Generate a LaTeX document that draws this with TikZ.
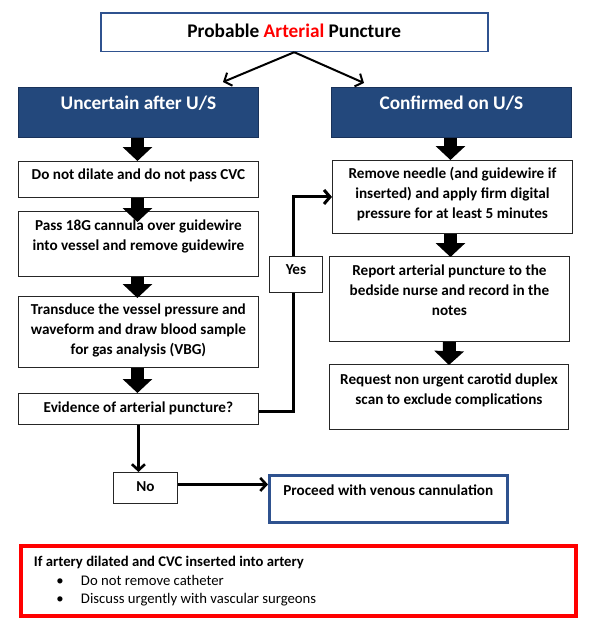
\documentclass[tikz,border=0pt]{standalone}
\usepackage{fontspec}
\setmainfont{Carlito}
\usetikzlibrary{arrows.meta,backgrounds,calc}
\definecolor{hdrfill}{RGB}{35,72,124}
\definecolor{hdrline}{RGB}{25,50,90}
\definecolor{titleline}{RGB}{47,82,143}
\newcommand{\fbx}[4]{\parbox[c][#2pt][t]{#1pt}{\centering\rule{0pt}{#3pt}#4}}
\begin{document}
\begin{tikzpicture}[x=1pt,y=-1pt,
  box/.style={draw=black!85, line width=0.9pt, fill=white, inner sep=0pt, anchor=north west,
    font=\fontsize{15.2}{20}\selectfont\bfseries},
  hdr/.style={box, draw=hdrline, fill=hdrfill, text=white, font=\fontsize{19.3}{22}\selectfont\bfseries},
  ttl/.style={box, draw=titleline, line width=1.5pt, font=\fontsize{19.3}{22}\selectfont\bfseries},
  pbox/.style={box, draw=titleline, line width=2.5pt},
  redbox/.style={box, draw=red, line width=4pt, font=\fontsize{14.7}{18.5}\selectfont},
  blockarr/.style={line width=13pt, -{Triangle[width=29pt,length=14pt]}},
  thinarr/.style={line width=2pt, -{Straight Barb[length=6pt,width=14pt]}},
  midarr/.style={line width=2.6pt, -{Straight Barb[length=6pt,width=13pt]}}
]
\useasboundingbox (0,0) rectangle (599,632);

\node[ttl] (title) at (100,12.3) {\fbx{387}{38.4}{24}{Probable \textcolor{red}{Arterial} Puncture}};
\node[hdr] (unc) at (18,87) {\fbx{240}{50}{22.5}{Uncertain after U/S}};
\node[hdr] (con) at (331,87) {\fbx{240}{50}{22.5}{Confirmed on U/S}};

\node[box] (dnd) at (18,161) {\fbx{240}{36}{17.9}{Do not dilate and do not pass CVC}};
\node[box] (pass) at (18,211) {\fbx{240}{65}{18.9}{Pass 18G cannula over guidewire\\into vessel and remove guidewire}};
\node[box] (trans) at (18,296) {\fbx{240}{71}{17.9}{Transduce the vessel pressure and\\waveform and draw blood sample\\for gas analysis (VBG)}};
\node[box] (ev) at (18,393) {\fbx{240}{31}{18.9}{Evidence of arterial puncture?}};

\node[box] (rem) at (332,160) {\fbx{240}{73}{17.9}{Remove needle (and guidewire if\\inserted) and apply firm digital\\pressure for at least 5 minutes}};
\node[box] (rep) at (329,256) {\fbx{240}{85}{18.9}{Report arterial puncture to the\\bedside nurse and record in the\\notes}};
\node[box] (req) at (329,364) {\fbx{239}{65}{19.9}{Request non urgent carotid duplex\\scan to exclude complications}};

\node[box] (yes) at (269,256) {\fbx{53}{36}{17.9}{Yes}};
\node[box] (no) at (113,472) {\fbx{64}{31}{18.9}{No}};
\node[pbox] (pro) at (268,474) {\fbx{238}{47}{19.9}{Proceed with venous cannulation}};

\node[redbox] (note) at (19,544) {\parbox[c][70pt][t]{555pt}{\raggedright\rule{0pt}{20.7pt}\hspace*{13pt}\textbf{If artery dilated and CVC inserted into artery}\\
\hspace*{35.5pt}\makebox[24.5pt][l]{\textbullet}Do not remove catheter\\
\hspace*{35.5pt}\makebox[24.5pt][l]{\textbullet}Discuss urgently with vascular surgeons}};

% title arrows
\coordinate (t1) at (223,82);
\coordinate (t2) at (364,83);
\draw[thinarr] (title.south) -- (t1);
\draw[thinarr] (title.south) -- (t2);

% block arrows
\draw[blockarr] ([xshift=-1pt]unc.south) -- ([xshift=-1pt]dnd.north);
\draw[blockarr] ([xshift=-1pt]dnd.south) -- ([xshift=-1pt,yshift=-11pt]pass.north);
\draw[blockarr] ([xshift=-1pt]pass.south) -- ([xshift=-1pt,yshift=-2pt]trans.north);
\draw[blockarr] ([xshift=-1pt]trans.south) -- ([xshift=-1pt]ev.north);
\draw[blockarr] ([xshift=-1pt]con.south) -- ([xshift=-1pt]con.south |- rem.north);
\draw[blockarr] ([xshift=-2pt]rem.south) -- ([xshift=-2pt,yshift=-1pt]rem.south |- rep.north);
\draw[blockarr] (rep.south) -- ([yshift=-1pt]req.north);

% yes connector (behind the Yes box)
\begin{pgfonlayer}{background}
\draw[line width=3pt, -{Straight Barb[length=6pt,width=14pt]}] ([yshift=-3pt]ev.east) -| ([xshift=-2.5pt]yes.center) |- (rem.west);
\end{pgfonlayer}

% no branch
\draw[midarr] (ev.south) -- (ev.south |- no.north);
\draw[midarr] ([yshift=3.5pt]no.east) -- ([yshift=3.5pt]no.east -| pro.west);
\end{tikzpicture}
\end{document}
